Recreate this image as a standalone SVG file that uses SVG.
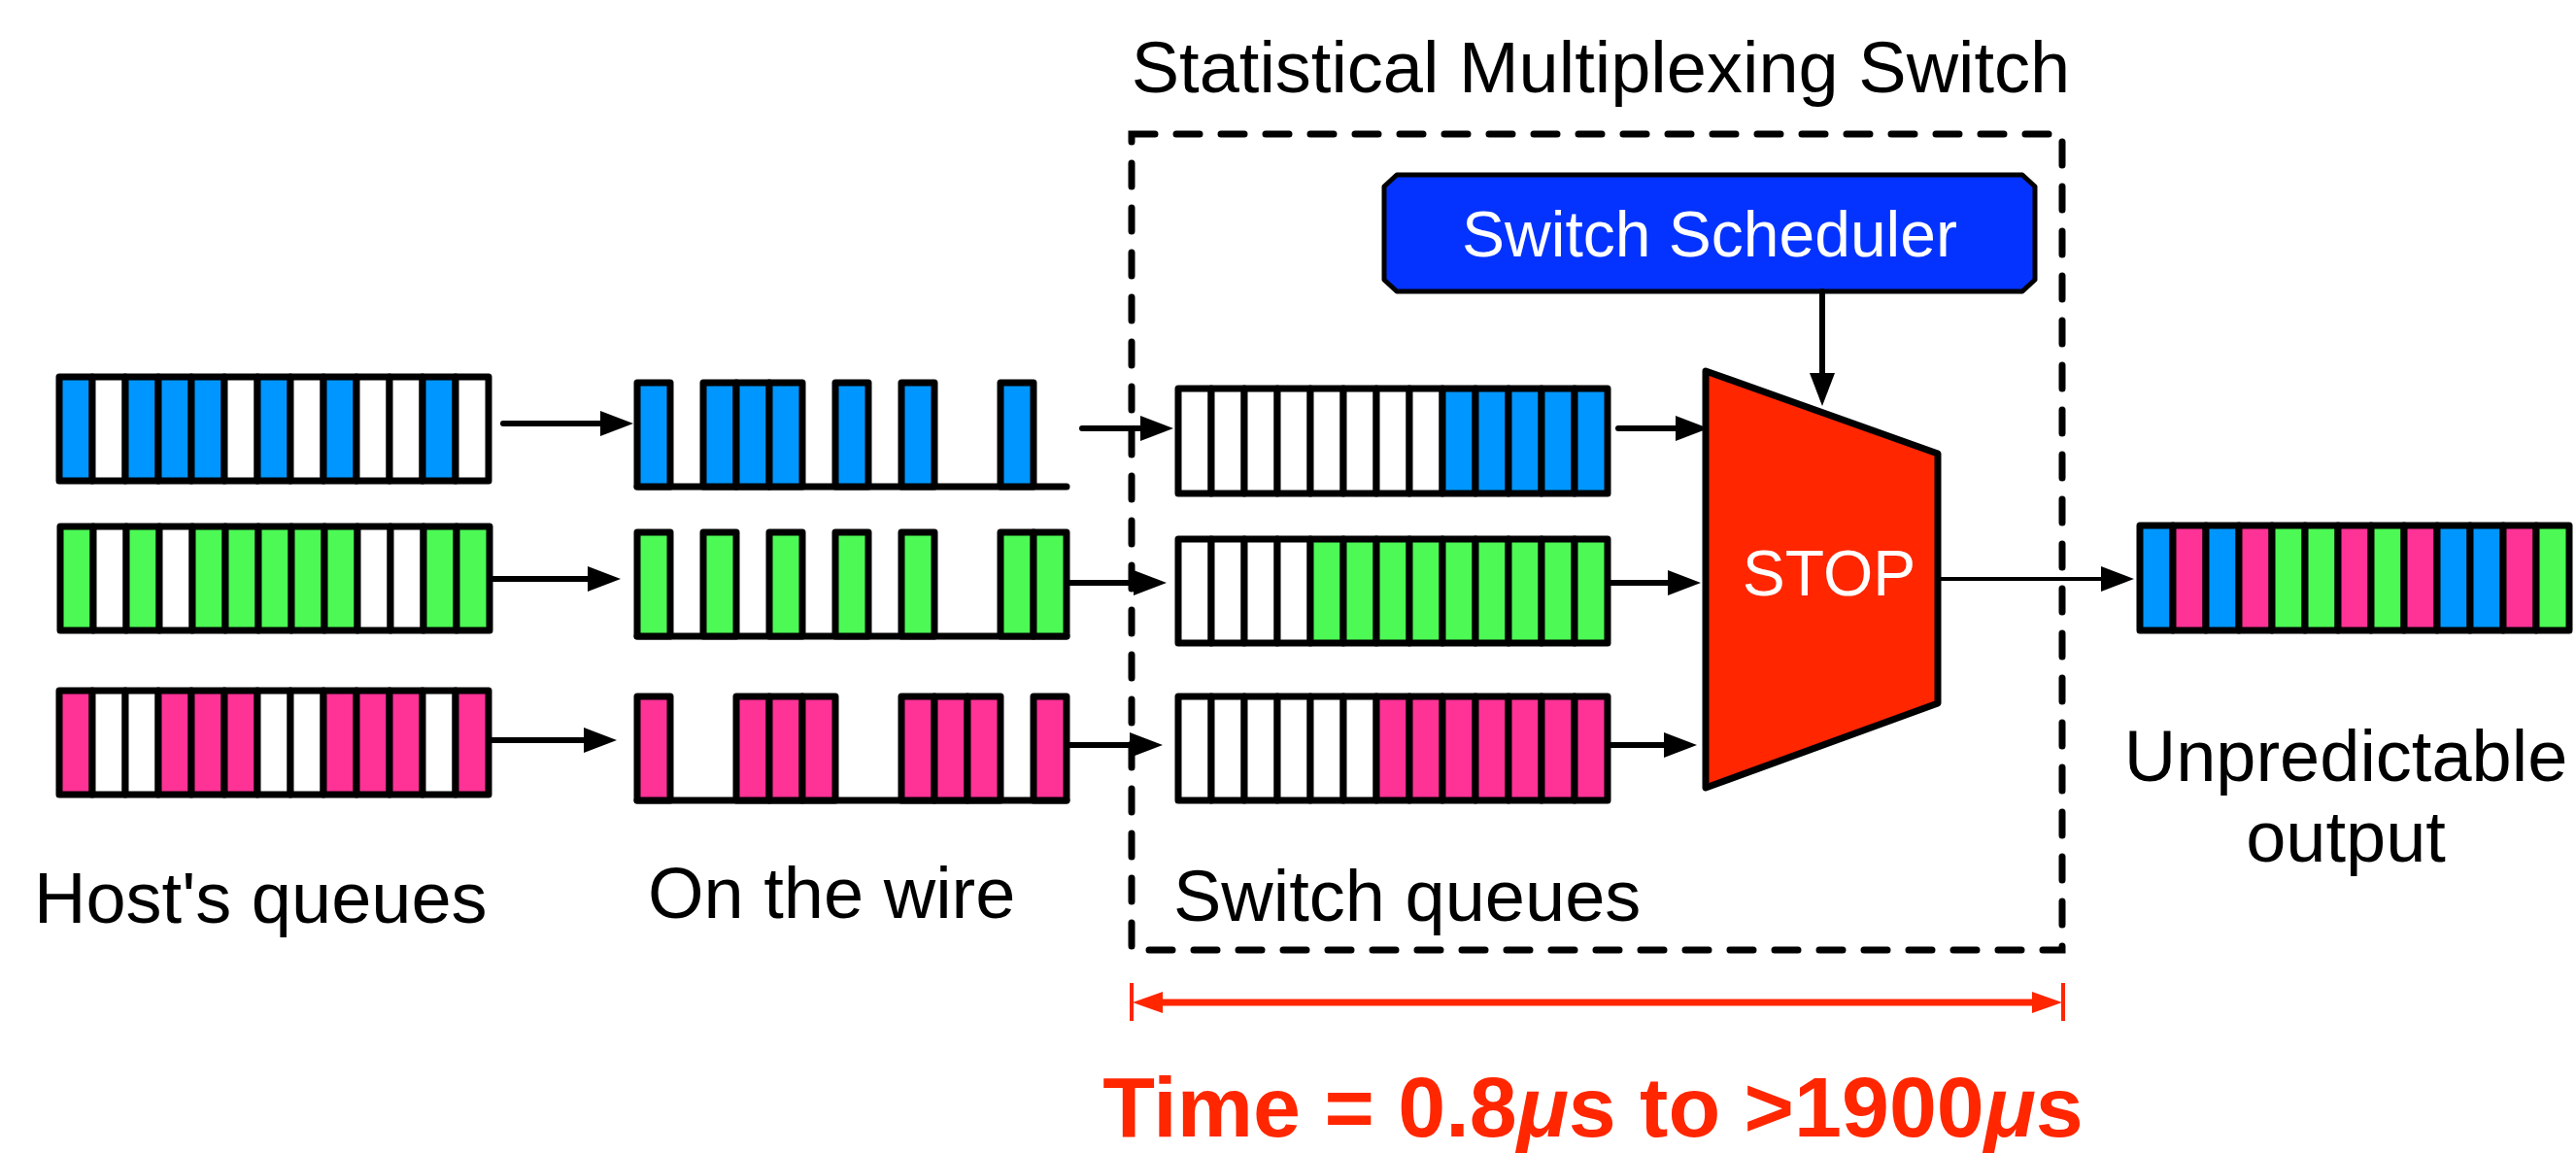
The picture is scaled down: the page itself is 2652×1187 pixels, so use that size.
<svg xmlns="http://www.w3.org/2000/svg" width="2652" height="1187" viewBox="0 0 2652 1187">
<style>
.c{stroke:#000;stroke-width:7;stroke-linejoin:round}
.b{fill:#0096FF}.g{fill:#4CF955}.p{fill:#FF3296}.w{fill:#fff}
.base{stroke:#000;stroke-width:7;stroke-linecap:round;fill:none}
.arr{stroke:#000;stroke-width:6;stroke-linecap:round;fill:none;marker-end:url(#ah)}
.lbl{font-family:"Liberation Sans",Arial,sans-serif;font-size:74px;fill:#000}
</style>
<defs>
<marker id="ah" markerUnits="userSpaceOnUse" viewBox="0 0 34 26" markerWidth="34" markerHeight="26" refX="1" refY="13" orient="auto"><path d="M0,0 L34,13 L0,26 z" fill="#000"/></marker>
<marker id="rh" markerUnits="userSpaceOnUse" viewBox="0 0 31 22" markerWidth="31" markerHeight="22" refX="1" refY="11" orient="auto-start-reverse"><path d="M0,0 L31,11 L0,22 z" fill="#FF2600"/></marker>
</defs>
<rect width="2652" height="1187" fill="#fff"/>

<g id="host-queues">
<g id="host-blue">
<rect class="c b" x="61" y="388" width="34" height="107"/><rect class="c w" x="95" y="388" width="34" height="107"/><rect class="c b" x="129" y="388" width="34" height="107"/><rect class="c b" x="163" y="388" width="34" height="107"/><rect class="c b" x="197" y="388" width="34" height="107"/><rect class="c w" x="231" y="388" width="34" height="107"/><rect class="c b" x="265" y="388" width="34" height="107"/><rect class="c w" x="299" y="388" width="34" height="107"/><rect class="c b" x="333" y="388" width="34" height="107"/><rect class="c w" x="367" y="388" width="34" height="107"/><rect class="c w" x="401" y="388" width="34" height="107"/><rect class="c b" x="435" y="388" width="34" height="107"/><rect class="c w" x="469" y="388" width="34" height="107"/>
</g>
<g id="host-green">
<rect class="c g" x="62" y="542" width="34" height="107"/><rect class="c w" x="96" y="542" width="34" height="107"/><rect class="c g" x="130" y="542" width="34" height="107"/><rect class="c w" x="164" y="542" width="34" height="107"/><rect class="c g" x="198" y="542" width="34" height="107"/><rect class="c g" x="232" y="542" width="34" height="107"/><rect class="c g" x="266" y="542" width="34" height="107"/><rect class="c g" x="300" y="542" width="34" height="107"/><rect class="c g" x="334" y="542" width="34" height="107"/><rect class="c w" x="368" y="542" width="34" height="107"/><rect class="c w" x="402" y="542" width="34" height="107"/><rect class="c g" x="436" y="542" width="34" height="107"/><rect class="c g" x="470" y="542" width="34" height="107"/>
</g>
<g id="host-pink">
<rect class="c p" x="61" y="711" width="34" height="107"/><rect class="c w" x="95" y="711" width="34" height="107"/><rect class="c w" x="129" y="711" width="34" height="107"/><rect class="c p" x="163" y="711" width="34" height="107"/><rect class="c p" x="197" y="711" width="34" height="107"/><rect class="c p" x="231" y="711" width="34" height="107"/><rect class="c w" x="265" y="711" width="34" height="107"/><rect class="c w" x="299" y="711" width="34" height="107"/><rect class="c p" x="333" y="711" width="34" height="107"/><rect class="c p" x="367" y="711" width="34" height="107"/><rect class="c p" x="401" y="711" width="34" height="107"/><rect class="c w" x="435" y="711" width="34" height="107"/><rect class="c p" x="469" y="711" width="34" height="107"/>
</g>
<text class="lbl" x="35" y="950">Host's queues</text>
</g>

<g id="wire">
<g id="wire-blue">
<line class="base" x1="656" y1="501" x2="1098" y2="501"/>
<rect class="c b" x="656" y="394" width="34" height="107"/><rect class="c b" x="724" y="394" width="34" height="107"/><rect class="c b" x="758" y="394" width="34" height="107"/><rect class="c b" x="792" y="394" width="34" height="107"/><rect class="c b" x="860" y="394" width="34" height="107"/><rect class="c b" x="928" y="394" width="34" height="107"/><rect class="c b" x="1030" y="394" width="34" height="107"/>
</g>
<g id="wire-green">
<line class="base" x1="656" y1="655" x2="1098" y2="655"/>
<rect class="c g" x="656" y="548" width="34" height="107"/><rect class="c g" x="724" y="548" width="34" height="107"/><rect class="c g" x="792" y="548" width="34" height="107"/><rect class="c g" x="860" y="548" width="34" height="107"/><rect class="c g" x="928" y="548" width="34" height="107"/><rect class="c g" x="1030" y="548" width="34" height="107"/><rect class="c g" x="1064" y="548" width="34" height="107"/>
</g>
<g id="wire-pink">
<line class="base" x1="656" y1="824" x2="1098" y2="824"/>
<rect class="c p" x="656" y="717" width="34" height="107"/><rect class="c p" x="758" y="717" width="34" height="107"/><rect class="c p" x="792" y="717" width="34" height="107"/><rect class="c p" x="826" y="717" width="34" height="107"/><rect class="c p" x="928" y="717" width="34" height="107"/><rect class="c p" x="962" y="717" width="34" height="107"/><rect class="c p" x="996" y="717" width="34" height="107"/><rect class="c p" x="1064" y="717" width="34" height="107"/>
</g>
<text class="lbl" x="667" y="945">On the wire</text>
</g>

<g id="switch">
<rect x="1165" y="138" width="958" height="840" fill="none" stroke="#000" stroke-width="7" stroke-dasharray="24 22" stroke-linecap="round"/>
<text class="lbl" x="1648" y="95" text-anchor="middle">Statistical Multiplexing Switch</text>
</g>

<g id="switch-queues">
<g id="sq-blue">
<rect class="c w" x="1213" y="400" width="34" height="108"/><rect class="c w" x="1247" y="400" width="34" height="108"/><rect class="c w" x="1281" y="400" width="34" height="108"/><rect class="c w" x="1315" y="400" width="34" height="108"/><rect class="c w" x="1349" y="400" width="34" height="108"/><rect class="c w" x="1383" y="400" width="34" height="108"/><rect class="c w" x="1417" y="400" width="34" height="108"/><rect class="c w" x="1451" y="400" width="34" height="108"/><rect class="c b" x="1485" y="400" width="34" height="108"/><rect class="c b" x="1519" y="400" width="34" height="108"/><rect class="c b" x="1553" y="400" width="34" height="108"/><rect class="c b" x="1587" y="400" width="34" height="108"/><rect class="c b" x="1621" y="400" width="34" height="108"/>
</g>
<g id="sq-green">
<rect class="c w" x="1213" y="555" width="34" height="107"/><rect class="c w" x="1247" y="555" width="34" height="107"/><rect class="c w" x="1281" y="555" width="34" height="107"/><rect class="c w" x="1315" y="555" width="34" height="107"/><rect class="c g" x="1349" y="555" width="34" height="107"/><rect class="c g" x="1383" y="555" width="34" height="107"/><rect class="c g" x="1417" y="555" width="34" height="107"/><rect class="c g" x="1451" y="555" width="34" height="107"/><rect class="c g" x="1485" y="555" width="34" height="107"/><rect class="c g" x="1519" y="555" width="34" height="107"/><rect class="c g" x="1553" y="555" width="34" height="107"/><rect class="c g" x="1587" y="555" width="34" height="107"/><rect class="c g" x="1621" y="555" width="34" height="107"/>
</g>
<g id="sq-pink">
<rect class="c w" x="1213" y="717" width="34" height="107"/><rect class="c w" x="1247" y="717" width="34" height="107"/><rect class="c w" x="1281" y="717" width="34" height="107"/><rect class="c w" x="1315" y="717" width="34" height="107"/><rect class="c w" x="1349" y="717" width="34" height="107"/><rect class="c w" x="1383" y="717" width="34" height="107"/><rect class="c p" x="1417" y="717" width="34" height="107"/><rect class="c p" x="1451" y="717" width="34" height="107"/><rect class="c p" x="1485" y="717" width="34" height="107"/><rect class="c p" x="1519" y="717" width="34" height="107"/><rect class="c p" x="1553" y="717" width="34" height="107"/><rect class="c p" x="1587" y="717" width="34" height="107"/><rect class="c p" x="1621" y="717" width="34" height="107"/>
</g>
<text class="lbl" x="1208" y="948">Switch queues</text>
</g>

<g id="scheduler">
<polygon points="1438,180 2082,180 2095,192 2095,288 2082,300 1438,300 1425,288 1425,192" fill="#0433FF" stroke="#000" stroke-width="5" stroke-linejoin="round"/>
<text x="1760" y="264" text-anchor="middle" font-family="Liberation Sans, Arial, sans-serif" font-size="66" fill="#fff">Switch Scheduler</text>
</g>

<g id="stop">
<polygon points="1756,382 1995,467 1995,724 1756,811" fill="#FF2600" stroke="#000" stroke-width="7" stroke-linejoin="round"/>
<text x="1883" y="613" text-anchor="middle" font-family="Liberation Sans, Arial, sans-serif" font-size="66" fill="#fff">STOP</text>
</g>

<g id="output">
<rect class="c b" x="2203" y="541" width="34" height="108"/><rect class="c p" x="2237" y="541" width="34" height="108"/><rect class="c b" x="2271" y="541" width="34" height="108"/><rect class="c p" x="2305" y="541" width="34" height="108"/><rect class="c g" x="2339" y="541" width="34" height="108"/><rect class="c g" x="2373" y="541" width="34" height="108"/><rect class="c p" x="2407" y="541" width="34" height="108"/><rect class="c g" x="2441" y="541" width="34" height="108"/><rect class="c p" x="2475" y="541" width="34" height="108"/><rect class="c b" x="2509" y="541" width="34" height="108"/><rect class="c b" x="2543" y="541" width="34" height="108"/><rect class="c p" x="2577" y="541" width="34" height="108"/><rect class="c g" x="2611" y="541" width="34" height="108"/>
<text class="lbl" x="2415" y="804" text-anchor="middle">Unpredictable</text>
<text class="lbl" x="2415" y="887" text-anchor="middle">output</text>
</g>

<g id="connectors">
<line class="arr" x1="518" y1="436" x2="619" y2="436"/>
<line class="arr" x1="505" y1="596" x2="606" y2="596"/>
<line class="arr" x1="505" y1="762" x2="602" y2="762"/>
<line class="arr" x1="1114" y1="441" x2="1175" y2="441"/>
<line class="arr" x1="1100" y1="600" x2="1168" y2="600"/>
<line class="arr" x1="1101" y1="767" x2="1164" y2="767"/>
<line class="arr" x1="1666" y1="441" x2="1726" y2="441"/>
<line class="arr" x1="1657" y1="600" x2="1718" y2="600"/>
<line class="arr" x1="1657" y1="767" x2="1714" y2="767"/>
<line class="arr" x1="1876" y1="300" x2="1876" y2="385"/>
<line class="arr" x1="1995" y1="596" x2="2164" y2="596" style="stroke-width:4"/>
</g>

<g id="time">
<line x1="1165" y1="1012" x2="1165" y2="1051" stroke="#FF2600" stroke-width="4"/>
<line x1="2124" y1="1012" x2="2124" y2="1051" stroke="#FF2600" stroke-width="4"/>
<line x1="1196" y1="1032" x2="2093" y2="1032" stroke="#FF2600" stroke-width="7" marker-start="url(#rh)" marker-end="url(#rh)"/>
<text x="1640" y="1170" text-anchor="middle" font-family="Liberation Sans, Arial, sans-serif" font-size="88" font-weight="bold" fill="#FF2600">Time = 0.8<tspan font-style="italic">μ</tspan>s to &gt;1900<tspan font-style="italic">μ</tspan>s</text>
</g>
</svg>
